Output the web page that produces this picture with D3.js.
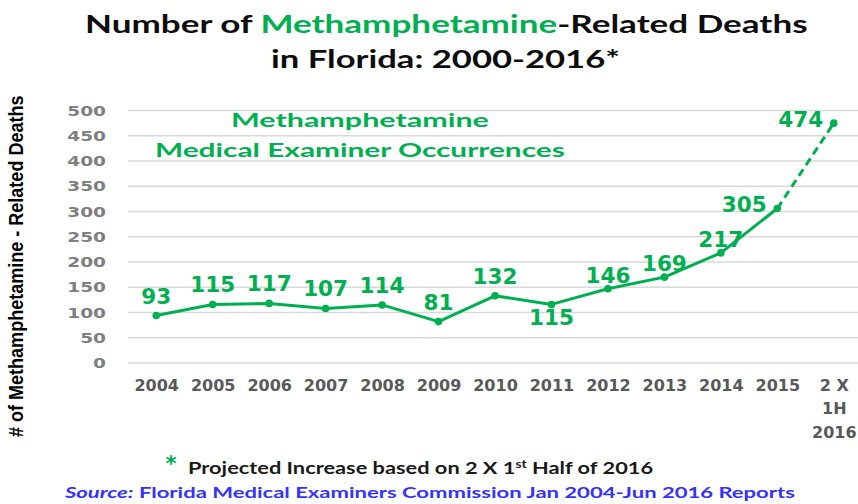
<!DOCTYPE html>
<head>
<meta charset="utf-8">
<title>Methamphetamine-Related Deaths in Florida</title>
<script src="https://d3js.org/d3.v7.min.js"></script>
<style>
  body { margin: 0; background: #fff; }
  svg { display: block; }
</style>
</head>
<body>
<div id="container"></div>
<script>
//*******************
// data
//*******************
const years = ["2004", "2005", "2006", "2007", "2008", "2009", "2010",
               "2011", "2012", "2013", "2014", "2015", "2 X|1H|2016"];
const deaths = [93, 115, 117, 107, 114, 81, 132, 115, 146, 169, 217, 305, 474];
// where the value label sits relative to its point
const labelPlace = ["above", "above", "above", "above", "above", "above", "above",
                    "below", "near", "near", "near", "left", "left"];
const yTicks = [0, 50, 100, 150, 200, 250, 300, 350, 400, 450, 500];

//*******************
// setup svg
//*******************
const W = 858, H = 504;
const green = "#00b050";
const svg = d3.select("#container").append("svg")
    .attr("width", W)
    .attr("height", H);

const xScale = d3.scalePoint().domain(years).range([128, 862]).padding(0.5);
const yScale = d3.scaleLinear().domain([0, 500]).range([362.5, 110]);

// stretch a piece of text so it covers a given width (the picture is widened)
function place(g, x0, y0, w, rot) {
    const bw = g.node().getBBox().width;
    g.attr("transform", "translate(" + x0 + "," + y0 + ")" + (rot ? " rotate(-90)" : "") +
        " scale(" + (w / bw) + ",1)");
}
function stretch(sel, k) {
    sel.each(function() {
        const n = this.getComputedTextLength();
        d3.select(this).attr("textLength", n * k).attr("lengthAdjust", "spacingAndGlyphs");
    });
}

//*******************
// title
//*******************
const t1 = svg.append("g");
const t1t = t1.append("text")
    .style("font-family", "Lato, 'Open Sans', sans-serif")
    .style("font-weight", "bold")
    .style("font-size", "25px")
    .attr("fill", "#0d0d0d");
t1t.append("tspan").text("Number of ");
t1t.append("tspan").attr("fill", green).text("Methamphetamine");
t1t.append("tspan").text("-Related Deaths");
place(t1, 85, 33, 723);

const t2 = svg.append("g");
t2.append("text")
    .style("font-family", "Lato, 'Open Sans', sans-serif")
    .style("font-weight", "bold")
    .style("font-size", "25px")
    .attr("fill", "#0d0d0d")
    .text("in Florida: 2000-2016*");
place(t2, 271, 68, 349);

//*******************
// y axis + gridlines
//*******************
const yaxis = d3.axisLeft(yScale)
    .tickValues(yTicks)
    .tickSize(-(W - 128))
    .tickPadding(22);

const gy = svg.append("g")
    .attr("transform", "translate(128,0)")
    .call(yaxis);
gy.select(".domain").remove();
gy.selectAll(".tick line")
    .attr("stroke", "#d9d9d9")
    .attr("stroke-width", 1.5);
gy.selectAll(".tick text")
    .attr("fill", "#7f7f7f")
    .attr("dy", "0.36em")
    .style("font-family", "'DejaVu Sans', sans-serif")
    .style("font-weight", "bold")
    .style("font-size", "14.5px")
    .call(stretch, 1.28);

// y axis title
const yl = svg.append("g");
yl.append("text")
    .style("font-family", "'Liberation Sans Narrow', 'Liberation Sans', sans-serif")
    .style("font-weight", "bold")
    .style("font-size", "19.5px")
    .attr("fill", "#000")
    .text("# of Methamphetamine - Related Deaths");
place(yl, 23, 437, 342, true);

//*******************
// x axis
//*******************
const xaxis = d3.axisBottom(xScale).tickSize(0).tickPadding(17);
const gx = svg.append("g")
    .attr("transform", "translate(0," + yScale(0) + ")")
    .call(xaxis);
gx.select(".domain").remove();
gx.selectAll(".tick text")
    .attr("fill", "#595959")
    .style("font-family", "'DejaVu Sans', sans-serif")
    .style("font-weight", "bold")
    .style("font-size", "16px")
    .each(function(d) {
        const parts = d.split("|");
        const el = d3.select(this).text(null);
        parts.forEach(function(p, i) {
            el.append("tspan")
                .attr("x", 0)
                .attr("dy", i === 0 ? "0.71em" : "1.47em")
                .text(p);
        });
    });

//*******************
// line
//*******************
const pts = years.map(function(y, i) { return { year: y, value: deaths[i], place: labelPlace[i] }; });
const line = d3.line()
    .x(function(d) { return xScale(d.year); })
    .y(function(d) { return yScale(d.value); });

const n = pts.length;
svg.append("path")
    .attr("d", line(pts.slice(0, n - 1)))
    .attr("fill", "none")
    .attr("stroke", green)
    .attr("stroke-width", 3)
    .attr("stroke-linejoin", "round");

// projected part
svg.append("path")
    .attr("d", line(pts.slice(n - 2)))
    .attr("fill", "none")
    .attr("stroke", green)
    .attr("stroke-width", 3)
    .attr("stroke-dasharray", "8,5");

svg.selectAll("circle.pt")
    .data(pts)
    .enter()
    .append("circle")
    .attr("class", "pt")
    .attr("cx", function(d) { return xScale(d.year); })
    .attr("cy", function(d) { return yScale(d.value); })
    .attr("r", 3.8)
    .attr("fill", green);

//*******************
// value labels
//*******************
const offs = {
    above: [0, -12],
    near:  [0, -6],
    below: [0, 21],
    left:  [-33, 4]
};
svg.selectAll("text.val")
    .data(pts)
    .enter()
    .append("text")
    .attr("class", "val")
    .attr("x", function(d) { return xScale(d.year) + offs[d.place][0]; })
    .attr("y", function(d) { return yScale(d.value) + offs[d.place][1]; })
    .attr("text-anchor", "middle")
    .attr("fill", green)
    .style("font-family", "'DejaVu Sans', sans-serif")
    .style("font-weight", "bold")
    .style("font-size", "20.5px")
    .text(function(d) { return d.value; })
    .call(stretch, 1.05);

//*******************
// annotation
//*******************
const a1 = svg.append("g");
a1.append("text")
    .style("font-family", "Lato, 'Open Sans', sans-serif")
    .style("font-weight", "bold")
    .style("font-size", "19px")
    .attr("fill", green)
    .text("Methamphetamine");
place(a1, 231, 127, 258);

const a2 = svg.append("g");
a2.append("text")
    .style("font-family", "Lato, 'Open Sans', sans-serif")
    .style("font-weight", "bold")
    .style("font-size", "19px")
    .attr("fill", green)
    .text("Medical Examiner Occurrences");
place(a2, 155, 157, 410);

//*******************
// footnotes
//*******************
svg.append("text")
    .attr("x", 171)
    .attr("y", 471)
    .attr("text-anchor", "middle")
    .attr("fill", green)
    .style("font-family", "'DejaVu Sans', sans-serif")
    .style("font-weight", "bold")
    .style("font-size", "21px")
    .text("*");

const f1 = svg.append("g");
const f1t = f1.append("text")
    .style("font-family", "Lato, 'Open Sans', sans-serif")
    .style("font-weight", "bold")
    .style("font-size", "16.5px")
    .attr("fill", "#1a1a1a");
f1t.append("tspan").text("Projected Increase based on 2 X 1");
f1t.append("tspan").attr("dy", -6).style("font-size", "10.5px").text("st");
f1t.append("tspan").attr("dy", 6).text(" Half of 2016");
place(f1, 188, 474, 466);

const f2 = svg.append("g");
const f2t = f2.append("text")
    .style("font-family", "Lato, 'Open Sans', sans-serif")
    .style("font-weight", "bold")
    .style("font-size", "16px")
    .attr("fill", "#3333ff");
f2t.append("tspan").style("font-style", "italic").text("Source:");
f2t.append("tspan").text(" Florida Medical Examiners Commission Jan 2004-Jun 2016 Reports");
place(f2, 65, 498, 732);
</script>
</body>
